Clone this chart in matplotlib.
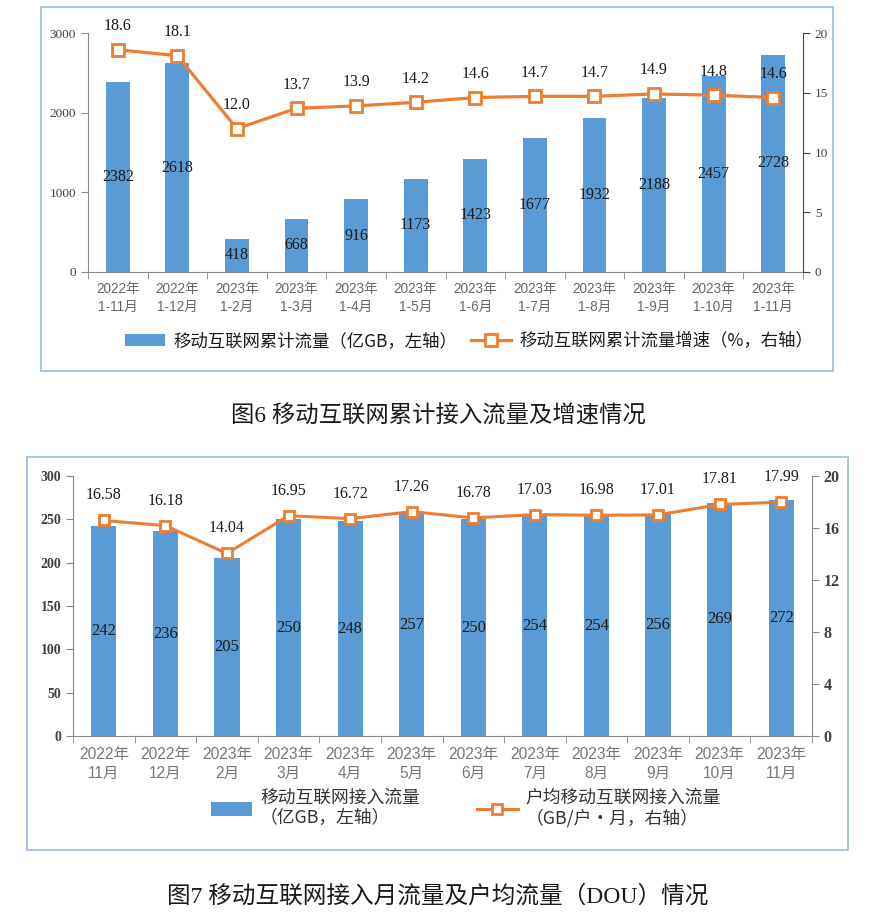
import matplotlib
matplotlib.use("Agg")
import matplotlib.pyplot as plt
from matplotlib.patches import Rectangle

plt.rcParams['font.family'] = ['Noto Sans CJK SC', 'DejaVu Sans']

SERIF = ['Liberation Serif', 'Noto Sans CJK SC']
SANS = ['Liberation Sans', 'Noto Sans CJK SC']
BAR = '#5B9BD5'
LINE = '#ED7D31'
BOX = '#9DC3E6'

# Figure 6 data
cum_labels = ['2022年\n1-11月', '2022年\n1-12月', '2023年\n1-2月', '2023年\n1-3月',
              '2023年\n1-4月', '2023年\n1-5月', '2023年\n1-6月', '2023年\n1-7月',
              '2023年\n1-8月', '2023年\n1-9月', '2023年\n1-10月', '2023年\n1-11月']
cum_traffic = [2382, 2618, 418, 668, 916, 1173, 1423, 1677, 1932, 2188, 2457, 2728]
cum_growth = [18.6, 18.1, 12.0, 13.7, 13.9, 14.2, 14.6, 14.7, 14.7, 14.9, 14.8, 14.6]

# Figure 7 data
month_labels = ['2022年\n11月', '2022年\n12月', '2023年\n2月', '2023年\n3月',
                '2023年\n4月', '2023年\n5月', '2023年\n6月', '2023年\n7月',
                '2023年\n8月', '2023年\n9月', '2023年\n10月', '2023年\n11月']
month_traffic = [242, 236, 205, 250, 248, 257, 250, 254, 254, 256, 269, 272]
dou = [16.58, 16.18, 14.04, 16.95, 16.72, 17.26, 16.78, 17.03, 16.98, 17.01, 17.81, 17.99]

W, H = 874, 916
fig = plt.figure(figsize=(W / 100, H / 100), dpi=100)


def px_axes(x0, y0, x1, y1):
    return fig.add_axes([x0 / W, 1 - y1 / H, (x1 - x0) / W, (y1 - y0) / H])


def px_box(x0, y0, x1, y1):
    fig.patches.append(Rectangle((x0 / W, 1 - y1 / H), (x1 - x0) / W, (y1 - y0) / H,
                                 transform=fig.transFigure, fill=False,
                                 edgecolor=BOX, linewidth=1.3))


def setup_x(ax, labels, size, color, pad, spacing):
    n = len(labels)
    ax.set_xlim(-0.5, n - 0.5)
    ax.set_xticks(range(n))
    ax.set_xticklabels(labels, fontsize=size, color=color, family=SANS, linespacing=spacing)
    ax.set_xticks([i - 0.5 for i in range(n + 1)], minor=True)
    ax.tick_params(axis='x', which='major', length=0, pad=pad)
    ax.tick_params(axis='x', which='minor', length=5, color='#888888', direction='out')
    ax.spines['top'].set_visible(False)
    ax.spines['right'].set_visible(False)
    ax.spines['left'].set_color('#888888')
    ax.spines['bottom'].set_color('#888888')


# ---------- Figure 6 ----------
px_box(41, 7, 833, 371)
ax1 = px_axes(88, 33, 803, 272)
x = list(range(len(cum_traffic)))
bars1 = ax1.bar(x, cum_traffic, width=0.4, color=BAR, zorder=2,
                label='移动互联网累计流量（亿GB，左轴）')
ax1.set_ylim(0, 3000)
ax1.set_yticks([0, 1000, 2000, 3000])
ax1.tick_params(axis='y', length=5, color='#888888', labelsize=9.5, labelcolor='#404040')
for t in ax1.get_yticklabels():
    t.set_family(SERIF)
setup_x(ax1, cum_labels, 9.8, '#666666', 7, 1.4)
for b, v in zip(bars1, cum_traffic):
    ax1.text(b.get_x() + b.get_width() / 2, v / 2, str(v), ha='center', va='center',
             fontsize=11.5, family=SERIF, color='#1a1a1a', zorder=4)

ax1r = ax1.twinx()
line1, = ax1r.plot(x, cum_growth, color=LINE, lw=2.3, marker='s', ms=8.5,
                   mfc='white', mec=LINE, mew=2, zorder=3,
                   label='移动互联网累计流量增速（%，右轴）')
ax1r.set_ylim(0, 20)
ax1r.set_yticks([0, 5, 10, 15, 20])
ax1r.tick_params(axis='y', length=5, color='#444444', labelsize=9.5, labelcolor='#404040')
for t in ax1r.get_yticklabels():
    t.set_family(SERIF)
for s in ['top', 'left', 'bottom']:
    ax1r.spines[s].set_visible(False)
ax1r.spines['right'].set_color('#444444')
for xi, v in zip(x, cum_growth):
    ax1r.annotate(f'{v:.1f}', (xi, v), xytext=(0, 17), textcoords='offset points',
                  ha='center', va='center', fontsize=11.5, family=SERIF, color='#1a1a1a')

fig.legend([bars1, line1], [bars1.get_label(), line1.get_label()],
           loc='center', bbox_to_anchor=(469 / W, 1 - 341 / H), ncol=2, frameon=False,
           fontsize=12.5, handlelength=2.3, handleheight=0.7, columnspacing=0.8,
           handletextpad=0.5, labelcolor='#1a1a1a')

fig.text(438 / W, 1 - 417 / H, '图6 移动互联网累计接入流量及增速情况', ha='center', va='center',
         fontsize=16.8, family=SERIF, color='#1a1a1a')

# ---------- Figure 7 ----------
px_box(27, 457, 848, 850)
ax2 = px_axes(73, 476, 812, 736)
bars2 = ax2.bar(x, month_traffic, width=0.41, color=BAR, zorder=2,
                label='移动互联网接入流量\n（亿GB，左轴）')
ax2.set_ylim(0, 300)
ax2.set_yticks(range(0, 301, 50))
ax2.tick_params(axis='y', length=5, color='#888888', labelsize=10, labelcolor='#404040')
for t in ax2.get_yticklabels():
    t.set_family(SERIF)
    t.set_fontweight('bold')
setup_x(ax2, month_labels, 11.2, '#777777', 8, 1.3)
for b, v in zip(bars2, month_traffic):
    ax2.text(b.get_x() + b.get_width() / 2, v / 2, str(v), ha='center', va='center',
             fontsize=12, family=SERIF, color='#1a1a1a', zorder=4)

ax2r = ax2.twinx()
line2, = ax2r.plot(x, dou, color=LINE, lw=2.2, marker='s', ms=6.5,
                   mfc='white', mec=LINE, mew=2, zorder=3,
                   label='户均移动互联网接入流量\n（GB/户·月，右轴）')
ax2r.set_ylim(0, 20)
ax2r.set_yticks(range(0, 21, 4))
ax2r.tick_params(axis='y', length=5, color='#888888', labelsize=11.5, labelcolor='#404040')
for t in ax2r.get_yticklabels():
    t.set_family(SERIF)
    t.set_fontweight('bold')
for s in ['top', 'left', 'bottom']:
    ax2r.spines[s].set_visible(False)
ax2r.spines['right'].set_color('#888888')
for xi, v in zip(x, dou):
    ax2r.annotate(f'{v:.2f}', (xi, v), xytext=(0, 18), textcoords='offset points',
                  ha='center', va='center', fontsize=11.5, family=SERIF, color='#1a1a1a')

fig.legend([bars2, line2], [bars2.get_label(), line2.get_label()],
           loc='center', bbox_to_anchor=(466 / W, 1 - 808 / H), ncol=2, frameon=False,
           fontsize=12.8, handlelength=2.3, handleheight=0.8, columnspacing=3.2,
           handletextpad=0.45, labelcolor='#333333')

fig.text(438 / W, 1 - 896 / H, '图7 移动互联网接入月流量及户均流量（DOU）情况', ha='center',
         va='center', fontsize=17, family=SERIF, color='#1a1a1a')

fig.savefig('out.png', dpi=100)
